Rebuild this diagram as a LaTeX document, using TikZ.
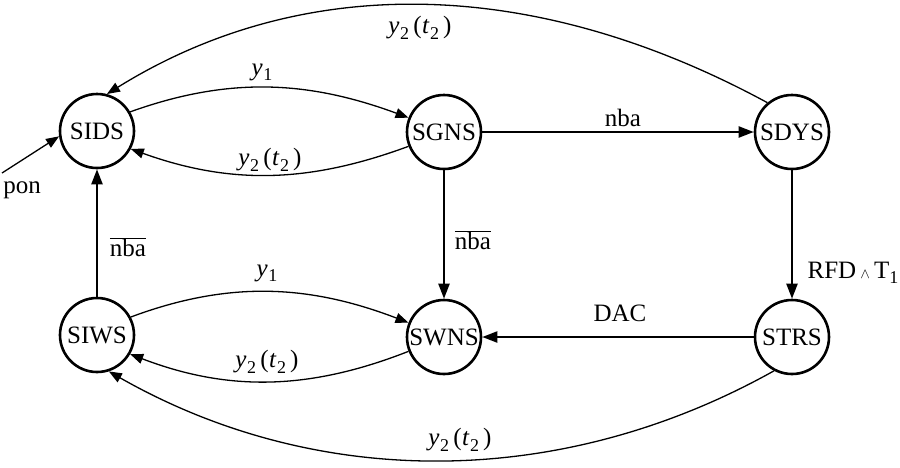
\documentclass[tikz,border=0pt]{standalone}
\usepackage{fontspec}
\setmainfont{Liberation Serif}
\usetikzlibrary{arrows.meta}
\newcommand\mysub[1]{\raisebox{-0.45ex}{\fontsize{18}{18}\selectfont #1}}
\newcommand\ysub[1]{\textit{y}\kern0.5pt\mysub{#1}}
\newcommand\ytt{\ysub{2}\,(\kern0.5pt\textit{t}\kern0.5pt\mysub{2}\,)}
\begin{document}
\begin{tikzpicture}[x=1pt,y=-1pt,
  st/.style={circle,draw,line width=2.6pt,minimum size=74pt,inner sep=0pt,font=\fontsize{25}{28}\selectfont},
  lbl/.style={font=\fontsize{25}{28}\selectfont,inner sep=0pt},
  heavy/.style={line width=2.2pt,-{Triangle[length=15pt,width=11pt]}},
  light/.style={line width=1.3pt,-{Triangle[length=13pt,width=10pt]}}]
\useasboundingbox (0,0) rectangle (900,467);
\node[st] (SIDS) at (97,131) {SIDS};
\node[st] (SGNS) at (444,132) {SGNS};
\node[st] (SDYS) at (792,132) {SDYS};
\node[st] (SIWS) at (97,335) {SIWS};
\node[st] (SWNS) at (444,337) {SWNS};
\node[st] (STRS) at (792,337) {STRS};
\coordinate (ponS) at (2,173);
% straight connectors
\draw[heavy] (SGNS) -- (SDYS);
\draw[heavy] (SGNS) -- (SWNS);
\draw[heavy] (SDYS) -- (STRS);
\draw[heavy] (STRS) -- (SWNS);
\draw[heavy] (SIWS) -- (SIDS);
\draw[light] (ponS) -- (SIDS.188);
% arcs
\draw[light] (SIDS.30) .. controls (230,76) and (309,81) .. (SGNS.158);
\draw[light] (SGNS.202) .. controls (309,183) and (231,185) .. (SIDS.-28);
\draw[light] (SIWS.28) .. controls (230,280) and (310,285) .. (SWNS.158);
\draw[light] (SWNS.202) .. controls (310,390) and (229,392) .. (SIWS.-30);
\draw[light] (SDYS.130) .. controls (530,-26) and (300,-26) .. (SIDS.75);
\draw[light] (STRS.-118) .. controls (561,490) and (317,490) .. (SIWS.-72);
% labels
\node[lbl] (l1) at (262,72) {\ysub{1}};
\node[lbl] (l2) at (270,160) {\ytt};
\node[lbl] (l3) at (267,273) {\ysub{1}};
\node[lbl] (l4) at (267,362) {\ytt};
\node[lbl] (l5) at (420,28) {\ytt};
\node[lbl] (l6) at (460,440) {\ytt};
\node[lbl] (l7) at (623,118) {nba};
\node[lbl] (l8) at (473,240) {$\overline{\mbox{nba}}$};
\node[lbl] (l9) at (128,247) {$\overline{\mbox{nba}}$};
\node[lbl] (l10) at (853,273) {RFD\,{\fontsize{15}{15}\selectfont$\wedge$}\,T\mysub{1}};
\node[lbl] (l11) at (620,313) {DAC};
\node[lbl] (l12) at (22,190) {pon};
\end{tikzpicture}
\end{document}
